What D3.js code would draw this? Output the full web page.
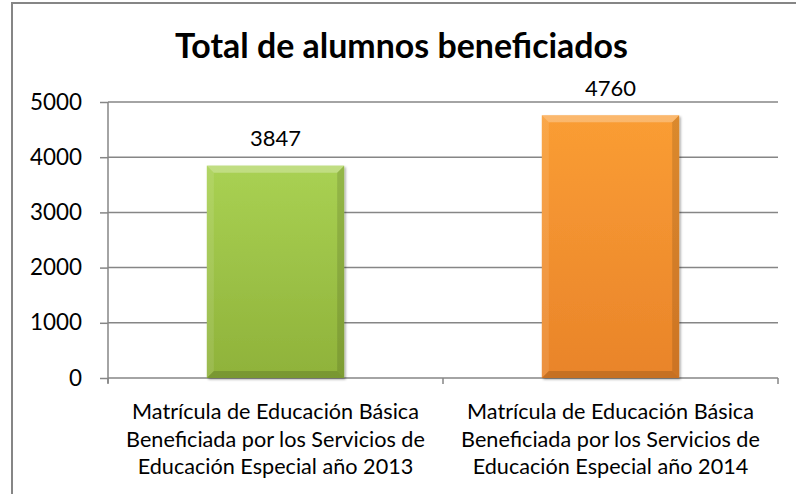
<!DOCTYPE html>
<html><head><meta charset="utf-8">
<script src="https://cdn.jsdelivr.net/npm/d3@7"></script>
<style>body{margin:0;background:#fff}svg{display:block}</style>
</head><body>
<script>
const categories = [
  ["Matrícula de Educación Básica","Beneficiada por los Servicios de","Educación Especial año 2013"],
  ["Matrícula de Educación Básica","Beneficiada por los Servicios de","Educación Especial año 2014"]
];
const values = [3847, 4760];
const yTicks = [0, 1000, 2000, 3000, 4000, 5000];
const title = "Total de alumnos beneficiados";

const W = 796, H = 494;
const FONT = "Lato, 'Open Sans', sans-serif";
const svg = d3.select("body").append("svg").attr("width", W).attr("height", H);

// fit a font size so a sample text reaches a target width
function fitSize(text, target, weight) {
  const t = svg.append("text").attr("font-family", FONT).attr("font-weight", weight || "normal")
    .attr("font-size", 100).text(text);
  const w = t.node().getComputedTextLength();
  t.remove();
  return 100 * target / w;
}
const tickSize = fitSize("5000", 52);
const valSize = fitSize("4760", 51);
const catSize = fitSize("Matrícula de Educación Básica", 287);
const titleSize = fitSize(title, 453, "bold");

// outer border
svg.append("rect").attr("x", 12).attr("y", 3).attr("width", W).attr("height", H)
  .attr("fill", "#fff").attr("stroke", "#868686").attr("stroke-width", 2);

const m = {left:108, right:778, top:102, bottom:378};
const y = d3.scaleLinear().domain([0, 5000]).range([m.bottom, m.top]);
const idx = d3.range(values.length);
const x = d3.scaleBand().domain(idx).range([m.left, m.right]).paddingInner(0.59).paddingOuter(0.295);

const defs = svg.append("defs");
const cols = [["#a9d153","#8fb23a"],["#fa9d34","#e9842a"]];
cols.forEach((c,i)=>{
  const g = defs.append("linearGradient").attr("id","g"+i).attr("x1",0).attr("y1",0).attr("x2",0).attr("y2",1);
  g.append("stop").attr("offset","0%").attr("stop-color",c[0]);
  g.append("stop").attr("offset","100%").attr("stop-color",c[1]);
});
const sh = defs.append("filter").attr("id","sh").attr("x","-10%").attr("y","-10%").attr("width","130%").attr("height","130%");
sh.append("feDropShadow").attr("dx",1.5).attr("dy",1.5).attr("stdDeviation",1.2).attr("flood-color","#000").attr("flood-opacity",0.35);

// gridlines
svg.append("g").selectAll("line").data(yTicks.filter(d=>d>0)).join("line")
  .attr("x1", m.left).attr("x2", m.right).attr("y1", d=>y(d)).attr("y2", d=>y(d))
  .attr("stroke", "#868686").attr("stroke-width", 1.5);

// y axis
const ya = svg.append("g").attr("transform", `translate(${m.left},0)`)
  .call(d3.axisLeft(y).tickValues(yTicks).tickSize(8).tickPadding(18).tickFormat(d3.format("d")));
ya.select(".domain").attr("stroke","#868686").attr("stroke-width",1.5).attr("d", `M-0,${m.top}V${m.bottom+5}`);
ya.selectAll(".tick line").attr("stroke","#868686").attr("stroke-width",1.5);
ya.selectAll(".tick text").attr("font-family",FONT).attr("font-size",tickSize).attr("fill","#000");

// x axis
const xa = svg.append("g");
xa.append("line").attr("x1",m.left).attr("x2",m.right).attr("y1",m.bottom).attr("y2",m.bottom)
  .attr("stroke","#868686").attr("stroke-width",1.5);
const bounds = [m.left, (m.left+m.right)/2, m.right];
xa.selectAll("line.t").data(bounds).join("line").attr("class","t")
  .attr("x1",d=>d).attr("x2",d=>d).attr("y1",m.bottom).attr("y2",m.bottom+6)
  .attr("stroke","#868686").attr("stroke-width",1.5);

// bars
const bars = svg.append("g").selectAll("g").data(idx).join("g");
bars.append("rect").attr("x",i=>x(i)).attr("y",i=>y(values[i])).attr("width",x.bandwidth())
  .attr("height",i=>y(0)-y(values[i])).attr("fill",i=>`url(#g${i})`).attr("filter","url(#sh)");
// bevels
const bv = 7;
bars.append("path").attr("d", i=>{
  const x0=x(i), x1=x(i)+x.bandwidth(), y0=y(values[i]);
  return `M${x0},${y0}L${x1},${y0}L${x1-bv},${y0+bv}L${x0+bv},${y0+bv}Z`;
}).attr("fill","#fff").attr("opacity",0.28);
bars.append("path").attr("d", i=>{
  const x0=x(i), y0=y(values[i]), y1=y(0);
  return `M${x0},${y0}L${x0+bv},${y0+bv}L${x0+bv},${y1-bv}L${x0},${y1}Z`;
}).attr("fill","#fff").attr("opacity",0.1);
bars.append("path").attr("d", i=>{
  const x1=x(i)+x.bandwidth(), y0=y(values[i]), y1=y(0);
  return `M${x1},${y0}L${x1-bv},${y0+bv}L${x1-bv},${y1-bv}L${x1},${y1}Z`;
}).attr("fill","#000").attr("opacity",0.12);
bars.append("path").attr("d", i=>{
  const x0=x(i), x1=x(i)+x.bandwidth(), y1=y(0);
  return `M${x0},${y1}L${x0+bv},${y1-bv}L${x1-bv},${y1-bv}L${x1},${y1}Z`;
}).attr("fill","#000").attr("opacity",0.15);

// value labels
svg.append("g").selectAll("text").data(idx).join("text")
  .attr("x",i=>x(i)+x.bandwidth()/2).attr("y",i=>y(values[i])-19.5)
  .attr("text-anchor","middle").attr("font-family",FONT).attr("font-size",valSize).attr("fill","#000")
  .text(i=>values[i]);

// category labels
const cl = svg.append("g").selectAll("text").data(idx).join("text")
  .attr("text-anchor","middle").attr("font-family",FONT).attr("font-size",catSize).attr("fill","#000");
cl.selectAll("tspan").data(i=>categories[i].map(t=>({t,i}))).join("tspan")
  .attr("x",d=>x(d.i)+x.bandwidth()/2).attr("y",(d,j)=>419+j*27.5).text(d=>d.t);

// title
svg.append("text").attr("x",401.5).attr("y",58).attr("text-anchor","middle")
  .attr("font-family",FONT).attr("font-weight","bold").attr("font-size",titleSize).attr("fill","#000")
  .text(title);
</script>
</body></html>
